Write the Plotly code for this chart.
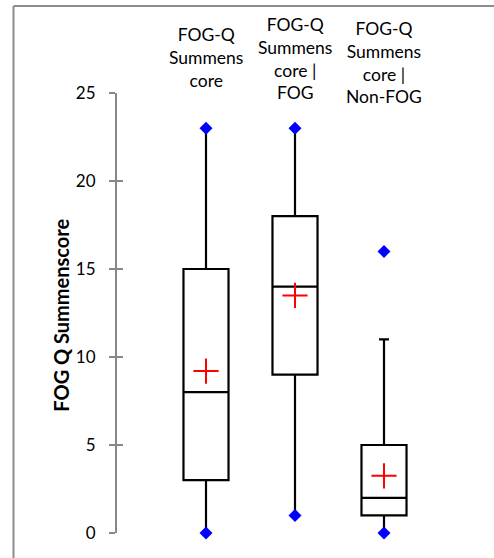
import plotly.graph_objects as go

categories = ["FOG-Q<br>Summens<br>core", "FOG-Q<br>Summens<br>core |<br>FOG", "FOG-Q<br>Summens<br>core |<br>Non-FOG"]
positions = [0, 1, 2]
minimum = [0, 1, 0]
q1 = [3, 9, 1]
median = [8, 14, 2]
q3 = [15, 18, 5]
whisker_low = [0, 1, 0]
whisker_high = [23, 23, 11]
maximum = [23, 23, 16]
mean = [9.2, 13.5, 3.25]
y_ticks = [0, 5, 10, 15, 20, 25]
y_title = "FOG Q Summenscore"
label_y = [1.0818, 1.0773, 1.0693]

FONT = "Lato, 'Open Sans', sans-serif"

fig = go.Figure()

for i in range(3):
    fig.add_trace(go.Box(
        x=[positions[i]], q1=[q1[i]], median=[median[i]], q3=[q3[i]],
        lowerfence=[whisker_low[i]], upperfence=[whisker_high[i]],
        width=0.506, whiskerwidth=0.22,
        line=dict(color="black", width=2.2),
        fillcolor="rgba(255,255,255,0)",
        boxpoints=False, showlegend=False, hoverinfo="skip",
    ))

# min / max markers
fig.add_trace(go.Scatter(
    x=positions + positions, y=minimum + maximum, mode="markers",
    marker=dict(symbol="diamond", size=10, color="#0000FF"),
    showlegend=False, hoverinfo="skip", cliponaxis=False,
))
# means
fig.add_trace(go.Scatter(
    x=positions, y=mean, mode="markers",
    marker=dict(symbol="cross-thin", size=18, line=dict(color="#FF0000", width=2)),
    showlegend=False, hoverinfo="skip",
))

for i, c in enumerate(categories):
    fig.add_annotation(x=positions[i], xref="x", y=label_y[i], yref="paper",
                       text=c, showarrow=False, yanchor="middle",
                       font=dict(family=FONT, size=17.5, color="black"))

fig.add_annotation(x=-0.1559, xref="paper", y=0.495, yref="paper",
                   text="<b>" + y_title + "</b>", textangle=-90, showarrow=False,
                   xanchor="center", yanchor="middle",
                   font=dict(family=FONT, size=20, color="black"))

border = dict(color="#8c8c8c", width=2)
fig.update_layout(
    width=494, height=558,
    margin=dict(l=117, r=21, t=93, b=25),
    paper_bgcolor="white", plot_bgcolor="white",
    font=dict(family=FONT, color="black"),
    xaxis=dict(range=[-1, 3], showticklabels=False, showline=False,
               showgrid=False, zeroline=False, ticks=""),
    yaxis=dict(range=[0, 25], tickvals=y_ticks, showgrid=False, zeroline=False,
               showline=True, linecolor="#888888", linewidth=2,
               ticks="outside", ticklen=6, tickwidth=1.5, tickcolor="#888888",
               ticklabelstandoff=10,
               tickfont=dict(family=FONT, size=17, color="black")),
    yaxis2=dict(range=[0, 25], tickvals=y_ticks, overlaying="y", anchor="x",
                side="left", showgrid=False, zeroline=False, showline=False,
                showticklabels=False, ticks="inside", ticklen=6, tickwidth=1.5,
                tickcolor="#888888"),
    shapes=[
        dict(type="line", xref="paper", yref="paper", x0=-0.2907, x1=1.06,
             y0=1.1977, y1=1.1977, line=border, layer="above"),
        dict(type="line", xref="paper", yref="paper", x0=-0.2907, x1=-0.2907,
             y0=-0.06, y1=1.1977, line=border, layer="above"),
    ],
)
# dummy trace to activate yaxis2
fig.add_trace(go.Scatter(x=[None], y=[None], yaxis="y2", showlegend=False, hoverinfo="skip"))

fig.write_html("out.html", config={"displayModeBar": False},
               post_script="document.body.style.margin='0px';"
                           "document.body.style.overflow='hidden';"
                           "document.documentElement.style.overflow='hidden';")
